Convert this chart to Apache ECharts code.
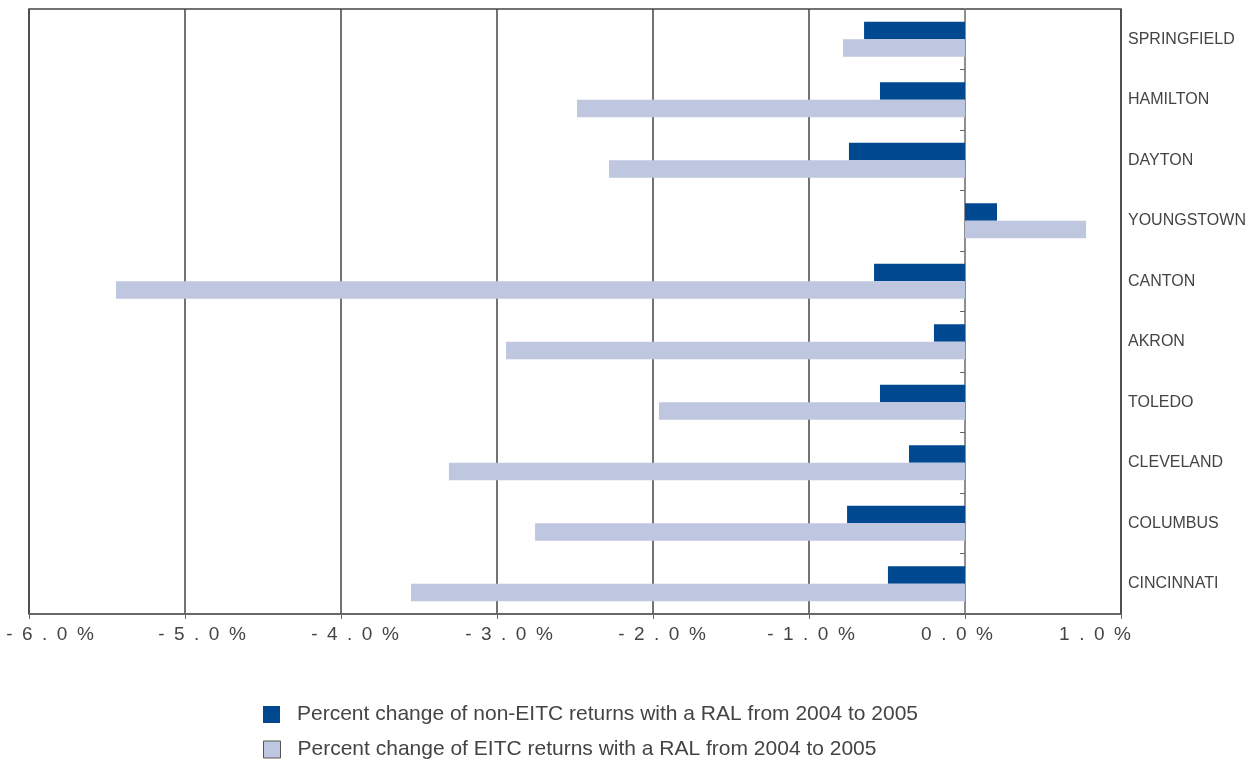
<!DOCTYPE html>
<html><head><meta charset="utf-8">
<script src="https://cdn.jsdelivr.net/npm/echarts@6/dist/echarts.min.js"></script>
<style>html,body{margin:0;padding:0;background:#fff}#c{width:1246px;height:762px}</style>
</head><body><div id="c"></div>
<script>
const cities = ['SPRINGFIELD','HAMILTON','DAYTON','YOUNGSTOWN','CANTON','AKRON','TOLEDO','CLEVELAND','COLUMBUS','CINCINNATI'];
const nonEitc = [-0.647,-0.545,-0.744,0.205,-0.583,-0.199,-0.545,-0.359,-0.756,-0.494];
const eitc = [-0.782,-2.487,-2.282,0.776,-5.442,-2.942,-1.962,-3.308,-2.756,-3.551];
const seriesNames = ['Percent change of non-EITC returns with a RAL from 2004 to 2005','Percent change of EITC returns with a RAL from 2004 to 2005'];
const tickValues = [-6,-5,-4,-3,-2,-1,0,1];
const tickLabels = ['-\u20026\u2002.\u20020\u2002%','-\u20025\u2002.\u20020\u2002%','-\u20024\u2002.\u20020\u2002%','-\u20023\u2002.\u20020\u2002%','-\u20022\u2002.\u20020\u2002%','-\u20021\u2002.\u20020\u2002%','0\u2002.\u20020\u2002%','1\u2002.\u20020\u2002%'];

const labelShift = [21,17,14,12,9,2,-8,-26];
const rich = {};
labelShift.forEach((s,i)=>{ rich['s'+i] = {fontFamily:'Liberation Sans',fontSize:19,color:'#444',padding: s>=0 ? [0,0,0,2*s] : [0,-2*s,0,0]}; });

const legendText = {fontFamily:'Liberation Sans',fontSize:21,color:'#444',padding:[0,0,0,12]};
const chart = echarts.init(document.getElementById('c'));
chart.setOption({
  animation:false,
  grid:{left:29,right:125,top:9,bottom:148,show:true,borderColor:'#444',borderWidth:1.5,outerBoundsMode:'none',containLabel:false},
  legend:[{
    left:258,top:699,itemWidth:17,itemHeight:17,icon:'rect',textStyle:legendText,
    data:[{name:seriesNames[0]}]
  },{
    left:258,top:734,itemWidth:17,itemHeight:17,icon:'rect',textStyle:legendText,
    data:[{name:seriesNames[1],itemStyle:{borderColor:'#555',borderWidth:1}}]
  }],
  xAxis:{
    type:'value',min:-6,max:1,interval:1,
    axisLine:{show:true,lineStyle:{color:'#666',width:1.5}},
    axisTick:{show:true,length:5,lineStyle:{color:'#666'}},
    splitLine:{show:true,lineStyle:{color:'#444',width:1.5}},
    axisLabel:{margin:11,formatter:function(v){const i=tickValues.indexOf(v);return '{s'+i+'|'+tickLabels[i]+'}';},rich:rich}
  },
  yAxis:[{
    type:'category',data:cities,inverse:true,position:'right',
    axisLine:{show:false,onZero:false},axisTick:{show:false},
    axisLabel:{fontFamily:'Liberation Sans',fontSize:16,color:'#444',margin:7}
  },{
    type:'category',data:cities,inverse:true,position:'left',
    axisLine:{show:true,onZero:true,lineStyle:{color:'#999',width:1.5}},
    axisTick:{show:true,length:5,lineStyle:{color:'#666'}},
    axisLabel:{show:false}
  }],
  series:[
    {name:seriesNames[0],type:'bar',data:nonEitc,barWidth:17.5,barGap:'0%',itemStyle:{color:'#004990'}},
    {name:seriesNames[1],type:'bar',data:eitc,barWidth:17.5,barGap:'0%',itemStyle:{color:'#BEC6E0'}}
  ]
});
</script></body></html>
